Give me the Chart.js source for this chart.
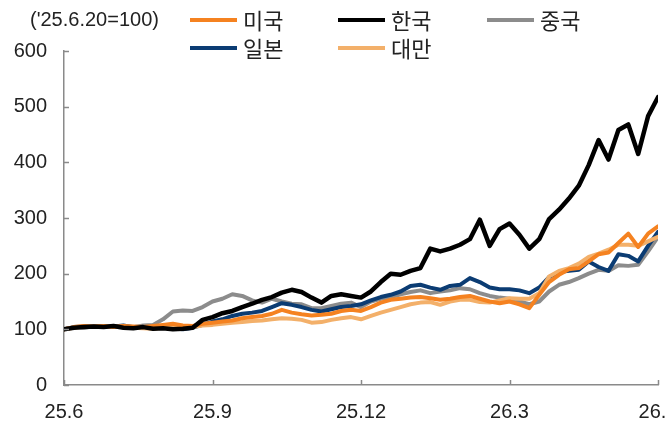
<!DOCTYPE html>
<html>
<head>
<meta charset="utf-8">
<script src="https://cdn.jsdelivr.net/npm/chart.js@4.4.1/dist/chart.umd.min.js"></script>
<style>
	html, body { margin: 0; padding: 0; background: #fff; overflow: hidden; }
	canvas { display: block; }
</style>
</head>
<body>
<canvas id="chart" width="667" height="423"></canvas>
<script>
// months since 25.6 (one sample roughly every 6 days)
var months = [
	0, 0.2, 0.4, 0.6, 0.8, 1, 1.2, 1.4, 1.6, 1.8,
	2, 2.2, 2.4, 2.6, 2.8, 3, 3.2, 3.4, 3.6, 3.8,
	4, 4.2, 4.4, 4.6, 4.8, 5, 5.2, 5.4, 5.6, 5.8,
	6, 6.2, 6.4, 6.6, 6.8, 7, 7.2, 7.4, 7.6, 7.8,
	8, 8.2, 8.4, 8.6, 8.8, 9, 9.2, 9.4, 9.6, 9.8,
	10, 10.2, 10.4, 10.6, 10.8, 11, 11.2, 11.4, 11.6, 11.8,
	12
];
var tickMonths = [0, 3, 6, 9, 12];
var tickLabels = ['25.6', '25.9', '25.12', '26.3', '26.6'];
var yTicks = [0, 100, 200, 300, 400, 500, 600];
var unitLabel = "('25.6.20=100)";

var usa = [
	100, 104, 106, 105, 106, 104, 106, 105, 104, 106,
	108, 110, 107, 106, 110, 112, 114, 116, 120, 122,
	124, 128, 135, 130, 127, 125, 126, 128, 133, 135,
	133, 140, 148, 153, 155, 157, 158, 156, 153, 155,
	158, 160, 155, 150, 147, 150, 145, 138, 162, 185,
	198, 208, 210, 222, 235, 238, 255, 272, 248, 272,
	285
];
var korea = [
	100, 103, 104, 105, 104, 106, 103, 102, 104, 101,
	102, 100, 101, 103, 117, 122, 129, 133, 140, 146,
	153, 158, 166, 171, 167, 157, 148, 160, 163, 160,
	157, 168, 185, 200, 198, 205, 210, 245, 240, 245,
	252, 262, 297, 250, 280, 290, 270, 245, 262, 298,
	315, 335, 358, 395, 440, 405, 458, 468, 415, 483,
	517
];
var china = [
	100, 104, 103, 105, 104, 106, 105, 104, 107, 108,
	118, 132, 134, 133, 140, 150, 155, 163, 160, 152,
	148, 155, 150, 146, 145, 138, 138, 142, 146, 148,
	140, 150, 155, 158, 163, 167, 170, 165, 168, 170,
	174, 172, 165, 160, 157, 155, 150, 145, 150, 168,
	180, 185, 192, 200, 207, 205, 215, 214, 216, 240,
	266
];
var japan = [
	100, 104, 105, 104, 106, 105, 107, 104, 103, 104,
	103, 102, 100, 103, 108, 114, 118, 124, 128, 130,
	133, 140, 147, 144, 140, 135, 132, 136, 140, 142,
	145, 152, 158, 162, 168, 178, 180, 175, 171, 178,
	180, 192, 185, 175, 172, 172, 170, 165, 175, 194,
	203, 205, 207, 222, 212, 205, 235, 232, 222, 250,
	275
];
var taiwan = [
	100, 103, 105, 104, 106, 104, 105, 103, 102, 101,
	103, 104, 103, 104, 107, 108, 110, 112, 113, 115,
	116, 118, 120, 119, 117, 112, 113, 117, 120, 122,
	118, 124, 130, 135, 140, 145, 148, 149, 144, 150,
	153, 153, 149, 148, 152, 156, 155, 155, 165, 195,
	205, 210, 218, 230, 236, 243, 252, 252, 250, 258,
	266
];

var names = ['미국', '한국', '중국', '일본', '대만'];
var colors = ['#f58220', '#000000', '#8c8c8c', '#0b3c73', '#f3b06a'];
var drawOrder = [1, 0, 4, 3, 2];
var series = [usa, korea, china, japan, taiwan];

var tickFont = '"Liberation Sans", Arial, sans-serif';
var korFont = '"Noto Sans CJK KR", "Noto Sans", sans-serif';
var axisColor = '#8a8a8a';

function points(values) {
	return values.map(function (v, i) { return {x: months[i], y: v}; });
}

// legend, unit label and inward tick marks
var decor = {
	id: 'decor',
	afterDraw: function (chart) {
		var ctx = chart.ctx;
		var area = chart.chartArea;
		var xs = chart.scales.x;
		var ys = chart.scales.y;

		ctx.save();
		ctx.strokeStyle = axisColor;
		ctx.lineWidth = 1.5;
		ctx.beginPath();
		yTicks.forEach(function (v) {
			var py = Math.round(ys.getPixelForValue(v)) + 0.5;
			ctx.moveTo(area.left, py);
			ctx.lineTo(area.left + 5, py);
		});
		tickMonths.forEach(function (m) {
			var px = Math.round(xs.getPixelForValue(m)) + 0.5;
			ctx.moveTo(px, area.bottom);
			ctx.lineTo(px, area.bottom - 5);
		});
		ctx.stroke();

		ctx.fillStyle = '#222';
		ctx.textBaseline = 'middle';
		ctx.font = '20px ' + tickFont;
		ctx.fillText(unitLabel, 30, 20);

		var slots = [[190, 20], [338, 20], [487, 20], [190, 48], [338, 48]];
		ctx.font = '22px ' + korFont;
		chart.data.datasets.forEach(function (ds, i) {
			var s = slots[i];
			ctx.strokeStyle = ds.borderColor;
			ctx.lineWidth = 4;
			ctx.beginPath();
			ctx.moveTo(s[0], s[1]);
			ctx.lineTo(s[0] + 47, s[1]);
			ctx.stroke();
			ctx.fillStyle = '#222';
			ctx.fillText(ds.label, s[0] + 53, s[1] + 1);
		});
		ctx.restore();
	}
};

new Chart(document.getElementById('chart'), {
	type: 'line',
	data: {
		datasets: series.map(function (values, i) {
			return {
				label: names[i],
				data: points(values),
				borderColor: colors[i],
				backgroundColor: colors[i],
				borderWidth: i === 1 ? 4.5 : 4,
				order: drawOrder[i],
				fill: false
			};
		})
	},
	options: {
		responsive: false,
		animation: false,
		devicePixelRatio: 1,
		layout: { padding: { top: 51, right: 9, left: 0, bottom: 0 } },
		elements: {
			point: { radius: 0 },
			line: { tension: 0, borderJoinStyle: 'round', borderCapStyle: 'round' }
		},
		plugins: {
			legend: { display: false },
			tooltip: { enabled: false }
		},
		scales: {
			x: {
				type: 'linear',
				min: 0,
				max: 12,
				afterBuildTicks: function (scale) {
					scale.ticks = tickMonths.map(function (m) { return {value: m}; });
				},
				afterFit: function (scale) {
					scale.height = 38;
					scale.paddingRight = 0;
					scale.paddingLeft = 0;
				},
				ticks: {
					autoSkip: false,
					maxRotation: 0,
					padding: 15,
					color: '#222',
					font: { family: tickFont, size: 20 },
					callback: function (value) {
						var i = tickMonths.indexOf(value);
						return i >= 0 ? tickLabels[i] : '';
					}
				},
				grid: { display: true, drawOnChartArea: false, drawTicks: false },
				border: { display: true, color: axisColor, width: 1.5 }
			},
			y: {
				min: 0,
				max: 600,
				afterBuildTicks: function (scale) {
					scale.ticks = yTicks.map(function (v) { return {value: v}; });
				},
				afterFit: function (scale) {
					scale.width = 64;
				},
				ticks: {
					padding: 17,
					color: '#222',
					font: { family: tickFont, size: 20 }
				},
				grid: { display: true, drawOnChartArea: false, drawTicks: false },
				border: { display: true, color: axisColor, width: 1.5 }
			}
		}
	},
	plugins: [decor]
});
</script>
</body>
</html>
